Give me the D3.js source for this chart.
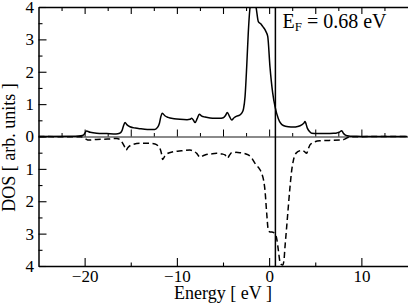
<!DOCTYPE html>
<html>
<head>
<meta charset="utf-8">
<script src="https://cdn.jsdelivr.net/npm/d3@7"></script>
<style>
  body { margin: 0; background: #fff; }
  svg { display: block; font-family: 'Liberation Serif', 'Times New Roman', Times, serif; }
</style>
</head>
<body>
<script>
// ! Data
const energyUp = [-25, -21, -20.4, -20.1, -19.8, -19.4, -18.7, -17.6, -16.6, -16.2, -15.95, -15.8,
  -15.62, -15.4, -15.08, -14.5, -14.0, -13.2, -12.4, -12.1, -11.9, -11.75, -11.58, -11.3, -10.96,
  -10.3, -9.66, -8.9, -8.58, -8.4, -8.2, -8.03, -7.8, -7.57, -7.3, -6.95, -6.4, -5.87, -5.4, -4.97,
  -4.75, -4.53, -4.3, -4.06, -3.8, -3.51, -3.2, -2.97, -2.78, -2.61, -2.43, -2.26, -2.1, -1.9, -1.7,
  -1.42, -1.17, -0.91, -0.7, -0.34, -0.15, 0.09, 0.39, 0.64, 1.0, 1.54, 2.1, 2.62, 3.1, 3.53, 3.75,
  3.89, 4.14, 4.4, 4.62, 5.2, 6.2, 7.0, 7.33, 7.6, 7.87, 8.05, 8.23, 8.5, 8.8, 9.5, 12, 15];
const dosUp = [0, 0.01, 0.02, 0.05, 0.17, 0.13, 0.1, 0.09, 0.08, 0.1, 0.18, 0.32,
  0.43, 0.36, 0.3, 0.26, 0.24, 0.22, 0.22, 0.28, 0.4, 0.6, 0.72, 0.64, 0.59,
  0.55, 0.53, 0.52, 0.53, 0.56, 0.5, 0.43, 0.55, 0.69, 0.63, 0.6, 0.57, 0.56, 0.56, 0.58,
  0.64, 0.74, 0.62, 0.51, 0.58, 0.63, 0.66, 0.72, 0.85, 1.23, 2.16, 3.2, 3.9, 4.2, 4.25,
  4.0, 3.55, 3.48, 3.4, 3.24, 3.09, 2.16, 1.34, 0.92, 0.55, 0.34, 0.3, 0.29, 0.31, 0.36, 0.41,
  0.46, 0.26, 0.15, 0.1, 0.09, 0.09, 0.1, 0.11, 0.13, 0.18, 0.1, 0.05, 0.02, 0.01, 0.005, 0, 0];

const energyDown = [-25, -21, -20.4, -20.14, -19.8, -19.6, -18.7, -17.5, -16.52, -16.2, -15.98,
  -15.7, -15.5, -15.3, -14.9, -14.0, -13.2, -12.37, -12.0, -11.83, -11.65, -11.54, -11.3, -11.1,
  -10.39, -9.5, -8.58, -8.2, -7.85, -7.49, -7.2, -6.95, -6.3, -5.68, -5.1, -4.78, -4.53, -4.3, -4.06,
  -3.6, -3.16, -2.7, -2.26, -1.9, -1.53, -1.1, -0.8, -0.6, -0.45, -0.26, -0.09, 0.1, 0.28, 0.64,
  0.85, 1.0, 1.18, 1.35, 1.47, 1.6, 1.72, 1.9, 2.08, 2.25, 2.45, 2.62, 2.8, 3.1, 3.53, 3.8, 4.07,
  4.25, 4.43, 4.7, 4.97, 5.5, 6.5, 7.7, 8.0, 8.2, 8.4, 8.7, 8.98, 10, 12, 15];
const dosDown = [0, 0.01, 0.01, 0.03, 0.09, 0.11, 0.09, 0.08, 0.06, 0.09, 0.16,
  0.3, 0.42, 0.34, 0.26, 0.21, 0.21, 0.23, 0.3, 0.37, 0.55, 0.71, 0.6, 0.54,
  0.47, 0.44, 0.42, 0.45, 0.52, 0.64, 0.6, 0.57, 0.54, 0.52, 0.54, 0.57, 0.67, 0.58, 0.5,
  0.49, 0.5, 0.52, 0.57, 0.66, 0.83, 0.98, 1.14, 1.35, 1.66, 2.38, 2.89, 2.95, 2.95, 3.0,
  3.2, 3.51, 3.88, 3.96, 3.97, 3.85, 3.41, 2.8, 2.17, 1.6, 1.04, 0.75, 0.57, 0.47, 0.43, 0.46, 0.52,
  0.38, 0.26, 0.2, 0.16, 0.13, 0.12, 0.11, 0.1, 0.08, 0.05, 0.02, 0.01, 0.005, 0, 0];

const fermiEnergy = 0.68;
const energyTicks = [-20, -10, 0, 10];
const energyMinorTicks = [-15, -5, 5];
const energyTopTicks = [-20, -15, -10, -5, 0, 5, 10];
const energyTopMinorTicks = [-22.5, -17.5, -12.5, -7.5, -2.5, 2.5, 7.5, 12.5];
const dosUpTicks = [0, 1, 2, 3, 4];
const dosDownTicks = [1, 2, 3, 4];
const dosMinorTicks = [0.5, 1.5, 2.5, 3.5];

// * Sizes
const width = 409;
const height = 304;
const plotLeft = 38.5;
const plotRight = 407.5;
const plotTop = 7;
const plotBottom = 266;
const zeroY = (plotTop + plotBottom) / 2;
const serif = "'Liberation Serif', 'Times New Roman', Times, serif";

const x = d3.scaleLinear().domain([-25, 15]).range([plotLeft, plotRight]);
const yUp = d3.scaleLinear().domain([0, 4]).range([zeroY, plotTop]);
const yDown = d3.scaleLinear().domain([0, 4]).range([zeroY, plotBottom]);

const svg = d3.select('body')
  .append('svg')
  .attr('width', width)
  .attr('height', height);

svg.append('defs').append('clipPath').attr('id', 'plotClip')
  .append('rect')
  .attr('x', plotLeft)
  .attr('y', plotTop)
  .attr('width', plotRight - plotLeft)
  .attr('height', plotBottom - plotTop);

// ! Grey zero line with upward ticks (bottom axis of the upper panel)
const zeroAxis = svg.append('g')
  .attr('transform', `translate(0, ${zeroY})`)
  .call(d3.axisBottom(x).tickValues(energyTopTicks).tickSize(-7).tickSizeOuter(0).tickFormat(''));
zeroAxis.select('.domain').attr('stroke', '#8a8a8a').attr('stroke-width', 2);
svg.append('g')
  .attr('transform', `translate(0, ${zeroY})`)
  .call(d3.axisBottom(x).tickValues(energyTopMinorTicks).tickSize(-3.5).tickFormat(''))
  .select('.domain').remove();

// * Curves
const lineUp = d3.line()
  .x((d) => x(d[0]))
  .y((d) => yUp(d[1]))
  .curve(d3.curveMonotoneX);
const lineDown = d3.line()
  .x((d) => x(d[0]))
  .y((d) => yDown(d[1]))
  .curve(d3.curveMonotoneX);

const curves = svg.append('g').attr('clip-path', 'url(#plotClip)');
curves.append('path')
  .datum(d3.zip(energyUp, dosUp))
  .attr('d', lineUp)
  .attr('fill', 'none')
  .attr('stroke', '#000')
  .attr('stroke-width', 1.5);
curves.append('path')
  .datum(d3.zip(energyDown, dosDown))
  .attr('d', lineDown)
  .attr('fill', 'none')
  .attr('stroke', '#000')
  .attr('stroke-width', 1.5)
  .attr('stroke-dasharray', '6,3.5');

// * Fermi level
svg.append('line')
  .attr('x1', x(fermiEnergy))
  .attr('x2', x(fermiEnergy))
  .attr('y1', plotTop)
  .attr('y2', plotBottom)
  .attr('stroke', '#000')
  .attr('stroke-width', 1.5);

// ! Axes
function styleAxis(g) {
  g.attr('font-family', serif).attr('font-size', 17);
  g.select('.domain').attr('stroke-width', 1.5);
  g.selectAll('.tick line').attr('stroke-width', 1.1);
  g.selectAll('.tick text').attr('fill', '#000');
}

svg.append('g')
  .attr('transform', `translate(${plotLeft}, 0)`)
  .call(d3.axisLeft(yUp).tickValues(dosUpTicks).tickSize(-8).tickSizeOuter(0).tickPadding(4.5).tickFormat(d3.format('d')))
  .call(styleAxis);
svg.append('g')
  .attr('transform', `translate(${plotLeft}, 0)`)
  .call(d3.axisLeft(yDown).tickValues(dosDownTicks).tickSize(-8).tickSizeOuter(0).tickPadding(4.5).tickFormat(d3.format('d')))
  .call(styleAxis);
[yUp, yDown].forEach((scale) => {
  svg.append('g')
    .attr('transform', `translate(${plotLeft}, 0)`)
    .call(d3.axisLeft(scale).tickValues(dosMinorTicks).tickSize(-4).tickFormat(''))
    .call(styleAxis)
    .select('.domain').remove();
});

svg.append('g')
  .attr('transform', `translate(0, ${plotBottom})`)
  .call(d3.axisBottom(x).tickValues(energyTicks).tickSize(-8).tickSizeOuter(0).tickPadding(4).tickFormat(d3.format('d')))
  .call(styleAxis);
svg.append('g')
  .attr('transform', `translate(0, ${plotBottom})`)
  .call(d3.axisBottom(x).tickValues(energyMinorTicks).tickSize(-3.5).tickFormat(''))
  .call(styleAxis)
  .select('.domain').remove();

svg.append('g')
  .attr('transform', `translate(0, ${plotTop})`)
  .call(d3.axisTop(x).tickValues(energyTopTicks).tickSize(-7).tickSizeOuter(0).tickFormat(''))
  .call(styleAxis);
svg.append('g')
  .attr('transform', `translate(0, ${plotTop})`)
  .call(d3.axisTop(x).tickValues(energyTopMinorTicks).tickSize(-4).tickFormat(''))
  .call(styleAxis)
  .select('.domain').remove();

// * Titles
svg.append('text')
  .attr('x', (plotLeft + plotRight) / 2)
  .attr('y', 299)
  .attr('text-anchor', 'middle')
  .attr('font-family', serif)
  .attr('font-size', 18)
  .text('Energy [ eV ]');

svg.append('text')
  .attr('transform', `translate(15, ${147.5}) rotate(-90)`)
  .attr('text-anchor', 'middle')
  .attr('font-family', serif)
  .attr('font-size', 18)
  .text('DOS [ arb. units ]');

// * Fermi energy label
const label = svg.append('text')
  .attr('x', 282.5)
  .attr('y', 28)
  .attr('font-family', serif)
  .attr('font-size', 20);
label.append('tspan').text('E');
label.append('tspan').attr('font-size', 13).attr('dy', 3).text('F');
label.append('tspan').attr('dy', -3).text(' = 0.68 eV');
</script>
</body>
</html>
